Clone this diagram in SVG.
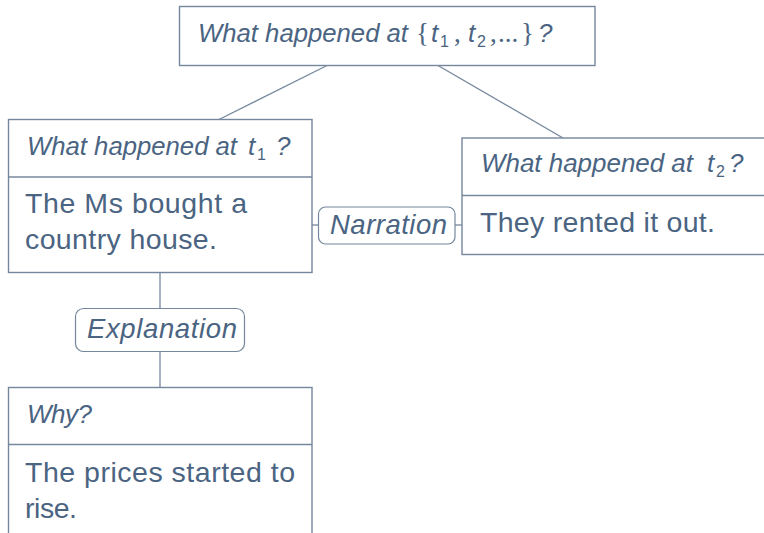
<svg xmlns="http://www.w3.org/2000/svg" width="764" height="533" viewBox="0 0 764 533">
<style>
.box{fill:#fff;stroke:#74879c;stroke-width:1.4}
.lbl{fill:#fff;stroke:#74879c;stroke-width:1.2}
.ln{fill:none;stroke:#74879c;stroke-width:1.3}
text{font-family:"Liberation Sans",Arial,sans-serif;fill:#4a6482}
.q{font-style:italic;font-size:26px}
.b{font-size:28.5px}
.l{font-style:italic;font-size:27.5px}
.m{font-family:"Liberation Serif",serif;font-style:normal;font-size:27px}
.s{font-style:normal;font-size:16px}
</style>
<rect width="764" height="533" fill="#fff"/>
<g id="connectors">
<line class="ln" x1="327" y1="65.5" x2="219" y2="119.5"/>
<line class="ln" x1="438" y1="65.5" x2="563" y2="138"/>
<line class="ln" x1="312" y1="225" x2="318.5" y2="225"/>
<line class="ln" x1="455" y1="225" x2="462" y2="225"/>
<line class="ln" x1="160" y1="272.5" x2="160" y2="308.5"/>
<line class="ln" x1="160" y1="351.5" x2="160" y2="387.5"/>
</g>
<g id="top">
<rect class="box" x="179.5" y="6.5" width="415.5" height="59"/>
<text class="q" x="198" y="41.7" textLength="210" lengthAdjust="spacingAndGlyphs">What happened at</text>
<text class="q" y="41.7"><tspan class="m" x="416">{</tspan><tspan x="431">t</tspan><tspan class="s" x="440" dy="5">1</tspan><tspan class="m" x="454" dy="-5">,</tspan><tspan x="468">t</tspan><tspan class="s" x="477" dy="5">2</tspan><tspan class="m" x="490" dy="-5">,</tspan><tspan class="m" x="498">...</tspan><tspan class="m" x="521">}</tspan><tspan x="538">?</tspan></text>
</g>
<g id="t1">
<rect class="box" x="8.5" y="119.5" width="303.5" height="153"/>
<line class="ln" x1="8.5" y1="177" x2="312" y2="177"/>
<text class="q" x="27" y="155" textLength="210" lengthAdjust="spacingAndGlyphs">What happened at</text>
<text class="q" y="155"><tspan x="248">t</tspan><tspan class="s" x="257" dy="5">1</tspan><tspan x="276" dy="-5">?</tspan></text>
<text class="b" x="25" y="212.7" textLength="222" lengthAdjust="spacing">The Ms bought a</text>
<text class="b" x="25" y="249.3" textLength="192" lengthAdjust="spacing">country house.</text>
</g>
<g id="t2">
<rect class="box" x="462" y="138" width="320" height="116.5"/>
<line class="ln" x1="462" y1="195.5" x2="770" y2="195.5"/>
<text class="q" x="481" y="171.7" textLength="212" lengthAdjust="spacingAndGlyphs">What happened at</text>
<text class="q" y="171.7"><tspan x="707">t</tspan><tspan class="s" x="716" dy="5">2</tspan><tspan x="729" dy="-5">?</tspan></text>
<text class="b" x="480" y="231.7" textLength="235" lengthAdjust="spacing">They rented it out.</text>
</g>
<g id="narration">
<rect class="lbl" x="318.5" y="207" width="136.5" height="37" rx="7"/>
<text class="l" x="330" y="234" textLength="117" lengthAdjust="spacing">Narration</text>
</g>
<g id="explanation">
<rect class="lbl" x="75.5" y="308.5" width="169" height="43" rx="8"/>
<text class="l" x="87" y="338" textLength="150" lengthAdjust="spacing">Explanation</text>
</g>
<g id="why">
<rect class="box" x="8.5" y="387.5" width="303.5" height="200"/>
<line class="ln" x1="8.5" y1="444.5" x2="312" y2="444.5"/>
<text class="q" x="27" y="423" textLength="65" lengthAdjust="spacing">Why?</text>
<text class="b" x="25" y="481.7" textLength="270" lengthAdjust="spacing">The prices started to</text>
<text class="b" x="25" y="518.3" textLength="52" lengthAdjust="spacing">rise.</text>
</g>
</svg>
